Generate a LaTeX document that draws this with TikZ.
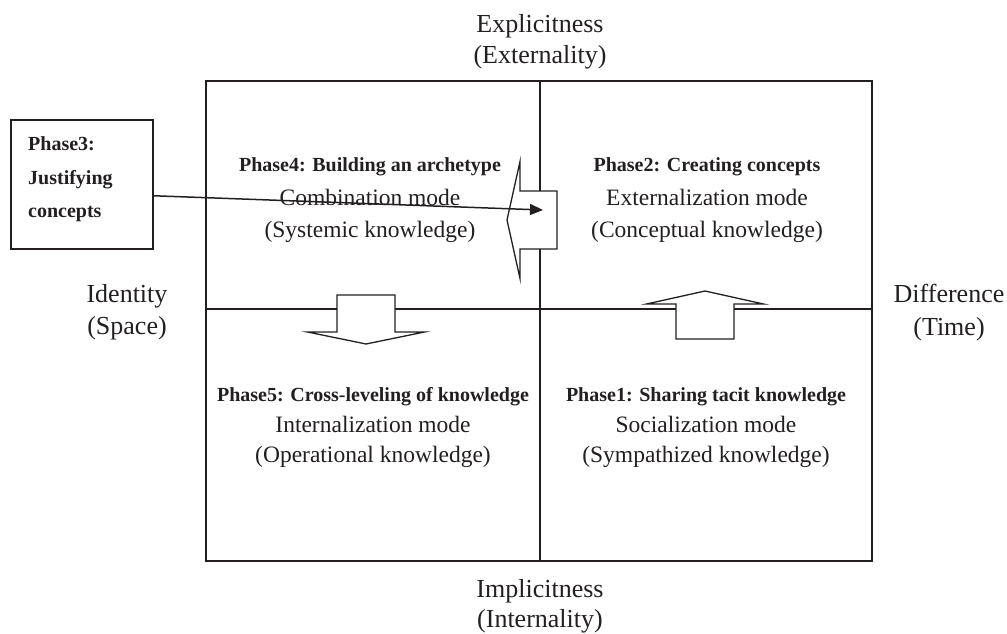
\documentclass[tikz,border=0pt]{standalone}
\usepackage{fontspec}
\setmainfont{Liberation Serif}
\usetikzlibrary{arrows.meta}
\definecolor{ink}{RGB}{35,31,32}
\tikzset{>={Triangle[length=13pt,width=11pt]}}

\begin{document}
\begin{tikzpicture}[x=1pt,y=-1pt]

\tikzstyle{axis}=[anchor=base,inner sep=0pt,font=\fontsize{26}{31}\selectfont,text=ink]
\tikzstyle{txt}=[anchor=base,inner sep=0pt,font=\fontsize{23.5}{28}\selectfont,text=ink]
\tikzstyle{phase}=[anchor=base,inner sep=0pt,font=\bfseries\fontsize{20}{24}\selectfont,text=ink]
\tikzstyle{grid}=[draw=ink,line width=2pt]
\tikzstyle{blockarrow}=[draw=ink,line width=1.3pt,fill=white,line join=miter]

\useasboundingbox (0,0) rectangle (1007,633);

% corners and centre of the square
\coordinate (nw) at (206,81);
\coordinate (se) at (872,561);
\coordinate (c)  at (540,309);

\draw[grid] (nw) rectangle (se);
\draw[grid] (nw -| c) -- (se -| c);
\draw[grid] (nw |- c) -- (se |- c);

% axis names
\node[axis] (expl)  at (540,32)  {Explicitness};
\node[axis] (ext)   at (540,63)  {(Externality)};
\node[axis] (impl)  at (540,597) {Implicitness};
\node[axis] (int)   at (540,627) {(Internality)};
\node[axis] (ident) at (127,302) {Identity};
\node[axis] (space) at (127,334) {(Space)};
\node[axis] (diff)  at (949,302) {Difference};
\node[axis] (time)  at (949,335) {(Time)};

% upper left
\node[phase] (ph4)  at (370,171) {Phase4: Building an archetype};
\node[txt]   (comb) at (370,205) {Combination mode};
\node[txt]   (syst) at (370,237) {(Systemic knowledge)};

% upper right
\node[phase] (ph2)  at (707,171) {Phase2: Creating concepts};
\node[txt]   (extm) at (707,205) {Externalization mode};
\node[txt]   (conc) at (707,237) {(Conceptual knowledge)};

% lower left
\node[phase] (ph5)  at (373,401) {Phase5: Cross-leveling of knowledge};
\node[txt]   (intm) at (373,432) {Internalization mode};
\node[txt]   (oper) at (373,462) {(Operational knowledge)};

% lower right
\node[phase] (ph1)  at (706,401) {Phase1: Sharing tacit knowledge};
\node[txt]   (soc)  at (706,432) {Socialization mode};
\node[txt]   (symp) at (706,462) {(Sympathized knowledge)};

% block arrows between the phases
\draw[blockarrow] (705,291) -- (763.5,304) -- (734,304) -- (734,339)
             -- (676,339) -- (676,304) -- (646.5,304) -- cycle;
\draw[blockarrow] (366,344) -- (424.5,332) -- (395,332) -- (395,295)
             -- (337,295) -- (337,332) -- (307.5,332) -- cycle;
\draw[blockarrow] (507,220) -- (520,161.5) -- (520,191) -- (557,191)
             -- (557,249) -- (520,249) -- (520,278.5) -- cycle;

% phase 3 sits outside the square
\node[draw=ink,line width=1.5pt,minimum width=142pt,minimum height=129pt,
      anchor=north west] (ph3box) at (10,119) {};
\node[phase,anchor=base west] (ph3a) at (28,150) {Phase3:};
\node[phase,anchor=base west] (ph3b) at (28,184) {Justifying};
\node[phase,anchor=base west] (ph3c) at (28,217) {concepts};

\coordinate (into) at (543,210);
\draw[->,draw=ink,line width=1.5pt] ([yshift=-11.5pt]ph3box.east) -- (into);

\end{tikzpicture}
\end{document}
